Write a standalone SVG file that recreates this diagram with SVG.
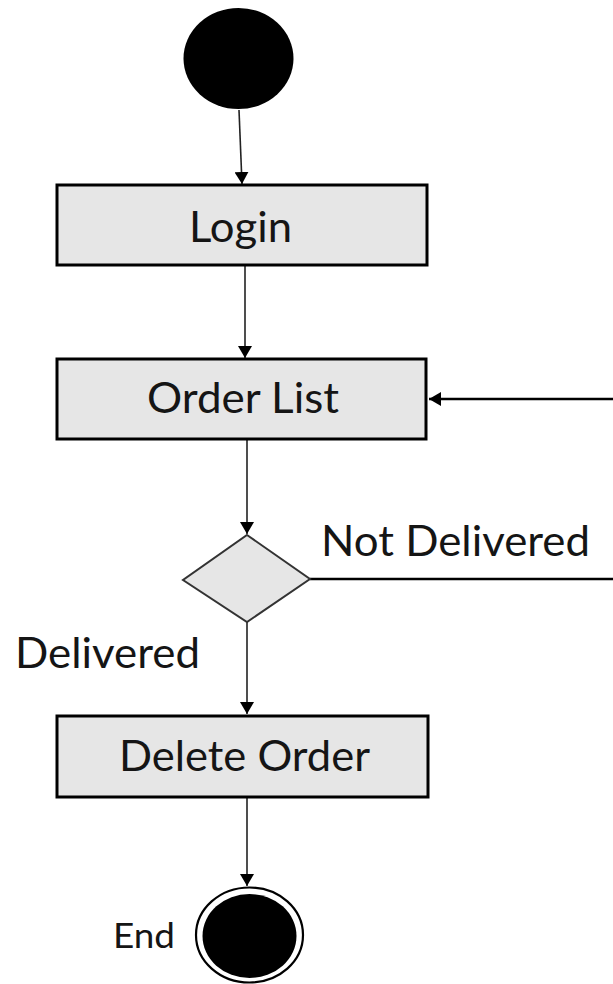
<svg xmlns="http://www.w3.org/2000/svg" width="613" height="984" viewBox="0 0 613 984">
<style>
.box{fill:#e6e6e6;stroke:#000;stroke-width:3}
.lbl{font-family:Lato,"Open Sans",sans-serif;fill:#151515;font-size:42px}
.conn{fill:none;stroke:#222;stroke-width:1.6}
.thick{fill:none;stroke:#000;stroke-width:2.6}
</style>
<defs>
<marker id="ah" viewBox="0 0 12 14" refX="12" refY="7" markerWidth="12" markerHeight="14" markerUnits="userSpaceOnUse" orient="auto">
<path d="M0,0 L12,7 L0,14 Z" fill="#000"/>
</marker>
</defs>
<rect width="613" height="984" fill="#fff"/>
<g id="connectors">
<line class="conn" x1="239" y1="110" x2="242" y2="184" marker-end="url(#ah)"/>
<line class="conn" x1="245" y1="266" x2="245" y2="358" marker-end="url(#ah)"/>
<line class="conn" x1="247" y1="440" x2="247" y2="534" marker-end="url(#ah)"/>
<line class="conn" x1="247" y1="622" x2="247" y2="714" marker-end="url(#ah)"/>
<line class="conn" x1="247" y1="798" x2="247" y2="886" marker-end="url(#ah)"/>
<polyline class="thick" points="310,579 618,579 618,399 429,399" marker-end="url(#ah)"/>
</g>
<g id="start">
<ellipse cx="238.5" cy="58.5" rx="55" ry="50.5" fill="#000"/>
</g>
<g id="login">
<rect class="box" x="57" y="185" width="370" height="80"/>
<text class="lbl" x="189" y="242" textLength="103" lengthAdjust="spacingAndGlyphs">Login</text>
</g>
<g id="orderList">
<rect class="box" x="57" y="359" width="369" height="80"/>
<text class="lbl" x="147" y="413" textLength="192" lengthAdjust="spacingAndGlyphs">Order List</text>
</g>
<g id="decision">
<polygon points="247,535 310,579 247,622 183,580" fill="#e6e6e6" stroke="#333" stroke-width="2"/>
<text class="lbl" x="321" y="556" textLength="269" lengthAdjust="spacingAndGlyphs">Not Delivered</text>
<text class="lbl" x="15" y="668" textLength="185" lengthAdjust="spacingAndGlyphs">Delivered</text>
</g>
<g id="deleteOrder">
<rect class="box" x="57" y="716" width="371" height="81"/>
<text class="lbl" x="119" y="771" textLength="251" lengthAdjust="spacingAndGlyphs">Delete Order</text>
</g>
<g id="end">
<ellipse cx="249.5" cy="935" rx="53.5" ry="47.5" fill="#fff" stroke="#000" stroke-width="2.2"/>
<ellipse cx="249.5" cy="936" rx="47" ry="42" fill="#000"/>
<text class="lbl" x="113" y="948" style="font-size:35px" textLength="62" lengthAdjust="spacingAndGlyphs">End</text>
</g>
</svg>
